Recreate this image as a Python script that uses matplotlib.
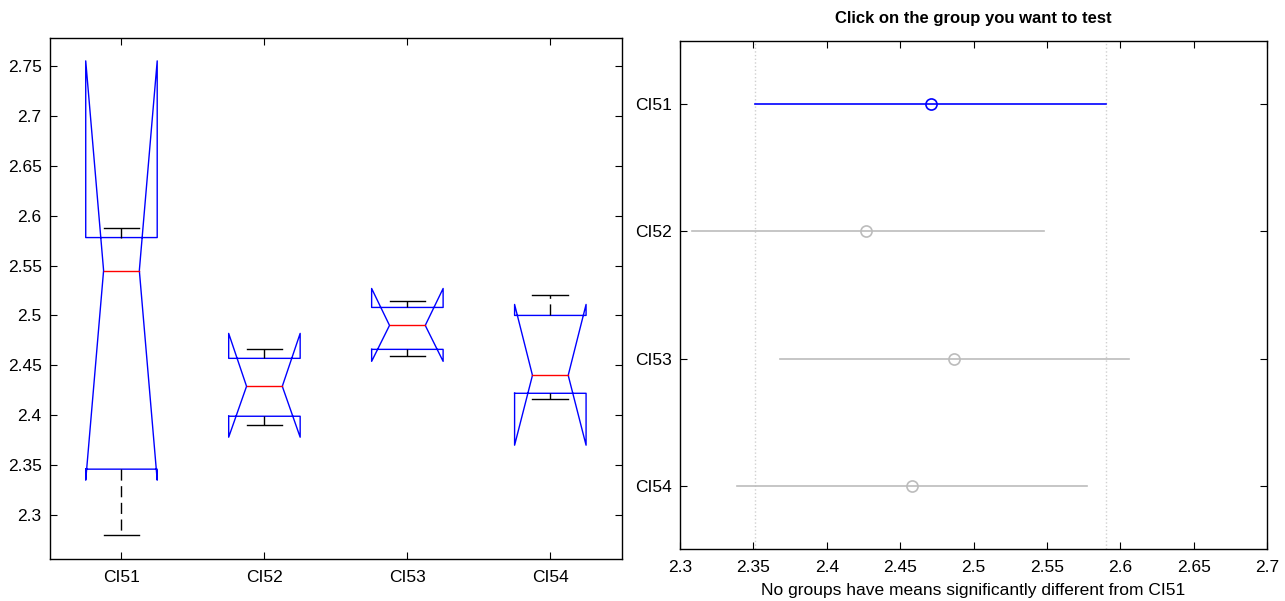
import matplotlib.pyplot as plt
import numpy as np

plt.rcParams['font.family'] = ['Liberation Sans', 'DejaVu Sans']

groups = ['CI51', 'CI52', 'CI53', 'CI54']

# notched boxplot stats
q1 = [2.346, 2.399, 2.466, 2.422]
med = [2.545, 2.429, 2.490, 2.440]
q3 = [2.578, 2.457, 2.508, 2.500]
notch_lo = [2.335, 2.378, 2.454, 2.370]
notch_hi = [2.755, 2.482, 2.527, 2.511]
whisk_lo = [2.280, 2.390, 2.459, 2.416]
whisk_hi = [2.588, 2.466, 2.514, 2.520]

# multiple comparison intervals (right panel)
ci_lo = [2.351, 2.308, 2.368, 2.339]
ci_mean = [2.471, 2.427, 2.487, 2.458]
ci_hi = [2.590, 2.548, 2.606, 2.577]

fig = plt.figure(figsize=(12.85, 6.01), dpi=100)
ax1 = fig.add_axes([0.0389, 0.0699, 0.445, 0.867])
ax2 = fig.add_axes([0.5292, 0.0865, 0.4568, 0.8453])

w = 0.25
for i in range(len(groups)):
    x = i + 1
    xs = [x - w, x - w, x - w / 2, x - w, x - w, x + w, x + w, x + w / 2, x + w, x + w, x - w]
    ys = [q1[i], notch_lo[i], med[i], notch_hi[i], q3[i], q3[i], notch_hi[i], med[i],
          notch_lo[i], q1[i], q1[i]]
    ax1.plot(xs, ys, color='blue', lw=1.0)
    ax1.plot([x - w / 2, x + w / 2], [med[i], med[i]], color='red', lw=1.0)
    # whiskers
    ax1.plot([x, x], [q3[i], whisk_hi[i]], color='black', lw=1.0, ls=(0, (8, 4)))
    ax1.plot([x, x], [q1[i], whisk_lo[i]], color='black', lw=1.0, ls=(0, (8, 4)))
    ax1.plot([x - w / 2, x + w / 2], [whisk_hi[i], whisk_hi[i]], color='black', lw=1.0)
    ax1.plot([x - w / 2, x + w / 2], [whisk_lo[i], whisk_lo[i]], color='black', lw=1.0)

ax1.set_xlim(0.5, 4.5)
ax1.set_ylim(2.256, 2.778)
ax1.set_xticks(range(1, 5))
ax1.set_xticklabels(groups)
yt = np.arange(2.3, 2.751, 0.05)
ax1.set_yticks(yt)
ax1.set_yticklabels(['%g' % round(v, 2) for v in yt])

# right panel
pos = np.arange(1, len(groups) + 1)
ax2.axvline(ci_lo[0], color='#d0d0d0', ls=':', lw=1.0)
ax2.axvline(ci_hi[0], color='#d0d0d0', ls=':', lw=1.0)
for i in range(len(groups)):
    c = 'blue' if i == 0 else '#bcbcbc'
    ax2.plot([ci_lo[i], ci_hi[i]], [pos[i], pos[i]], color=c, lw=1.2)
    ax2.plot(ci_mean[i], pos[i], 'o', mfc='none', mec=c, ms=8, mew=1.2)

ax2.set_xlim(2.3, 2.7)
ax2.set_ylim(4.5, 0.5)
xt = np.arange(2.3, 2.701, 0.05)
ax2.set_xticks(xt)
ax2.set_xticklabels(['%g' % round(v, 2) for v in xt])
ax2.set_yticks(pos)
ax2.set_yticklabels(groups)
ax2.set_title('Click on the group you want to test', fontweight='bold', fontsize=12, pad=13)
ax2.set_xlabel('No groups have means significantly different from CI51', fontsize=12.5, labelpad=6)

for ax in (ax1, ax2):
    ax.tick_params(direction='in', top=True, right=True, labelsize=12.5, length=5, pad=6)
    ax.tick_params(axis='x', pad=8)
    for s in ax.spines.values():
        s.set_linewidth(1.0)

fig.savefig('out.png', dpi=100)
